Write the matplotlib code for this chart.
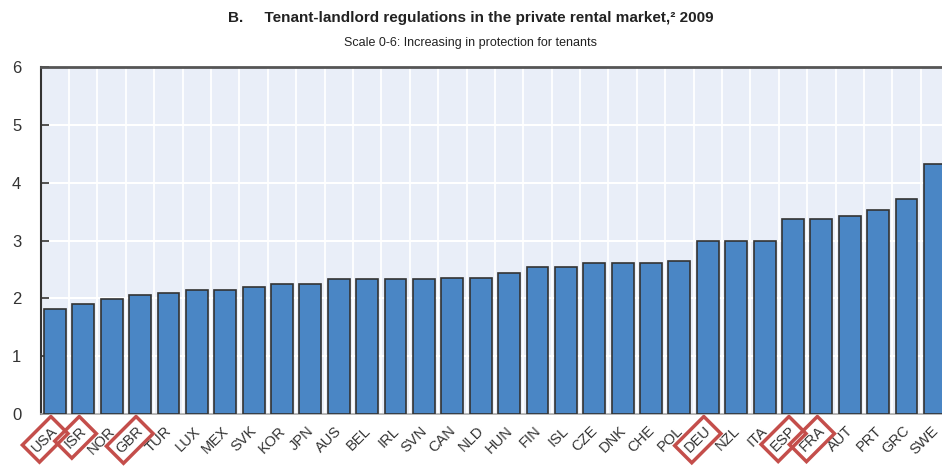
import matplotlib
matplotlib.use("Agg")
import matplotlib.pyplot as plt
import matplotlib.transforms as mtransforms
import numpy as np

plt.rcParams['font.family'] = ['Liberation Sans Narrow', 'Liberation Sans', 'DejaVu Sans']

countries = ["USA", "ISR", "NOR", "GBR", "TUR", "LUX", "MEX", "SVK", "KOR", "JPN",
             "AUS", "BEL", "IRL", "SVN", "CAN", "NLD", "HUN", "FIN", "ISL", "CZE",
             "DNK", "CHE", "POL", "DEU", "NZL", "ITA", "ESP", "FRA", "AUT", "PRT",
             "GRC", "SWE"]
values = [1.82, 1.91, 1.98, 2.05, 2.10, 2.14, 2.14, 2.20, 2.24, 2.24,
          2.33, 2.33, 2.33, 2.33, 2.36, 2.36, 2.43, 2.55, 2.55, 2.61,
          2.61, 2.61, 2.65, 3.00, 3.00, 3.00, 3.37, 3.37, 3.43, 3.53,
          3.72, 4.32]
highlighted = ["USA", "ISR", "GBR", "DEU", "ESP", "FRA"]
yticks = [0, 1, 2, 3, 4, 5, 6]

fig = plt.figure(figsize=(9.42, 4.66), dpi=100)
ax = fig.add_axes([0.0432, 0.1116, 0.9568, 0.7446])
ax.set_facecolor("#e9eef8")

x = np.arange(len(countries))
ax.bar(x, values, width=0.77, color="#4a86c5", edgecolor="#333333", linewidth=1.2, zorder=3)

ax.set_xlim(-0.5, 31.25)
ax.set_ylim(0, 6)
ax.set_yticks(yticks)
ax.set_yticklabels([str(t) for t in yticks], fontsize=12, color="#333333")

# gridlines between bars
ax.set_xticks(x[:-1] + 0.5, minor=True)
ax.grid(axis="x", which="minor", color="white", linewidth=1.3, zorder=1)
ax.grid(axis="y", which="major", color="white", linewidth=1.5, zorder=1)

ax.set_xticks(x)
ax.set_xticklabels(countries, rotation=45, ha="right", rotation_mode="anchor",
                   fontsize=10.5, color="#333333")
ax.tick_params(axis="x", which="both", length=0, pad=7)
ax.tick_params(axis="y", direction="in", length=6, width=1.2, color="#333333", pad=14)

shift = mtransforms.ScaledTranslation(-4 / 100, 0, fig.dpi_scale_trans)
for lab in ax.get_xticklabels():
    lab.set_transform(lab.get_transform() + shift)
    if lab.get_text() in highlighted:
        lab.set_bbox(dict(boxstyle="square,pad=0.35", fc="none", ec="#c44e4b", lw=2.5))

ax.spines["right"].set_visible(False)
ax.spines["top"].set_color("#555555")
ax.spines["top"].set_linewidth(2)
ax.spines["left"].set_color("#333333")
ax.spines["left"].set_linewidth(1.5)
ax.spines["bottom"].set_color("#aaaaaa")
ax.spines["bottom"].set_linewidth(1.2)

fig.text(0.5, 0.962, "B.     Tenant-landlord regulations in the private rental market,\u00b2 2009",
         ha="center", va="center", fontsize=11, fontweight="bold", color="#222222")
fig.text(0.5, 0.907, "Scale 0-6: Increasing in protection for tenants",
         ha="center", va="center", fontsize=9, color="#222222")

fig.savefig("out.png", dpi=100)
